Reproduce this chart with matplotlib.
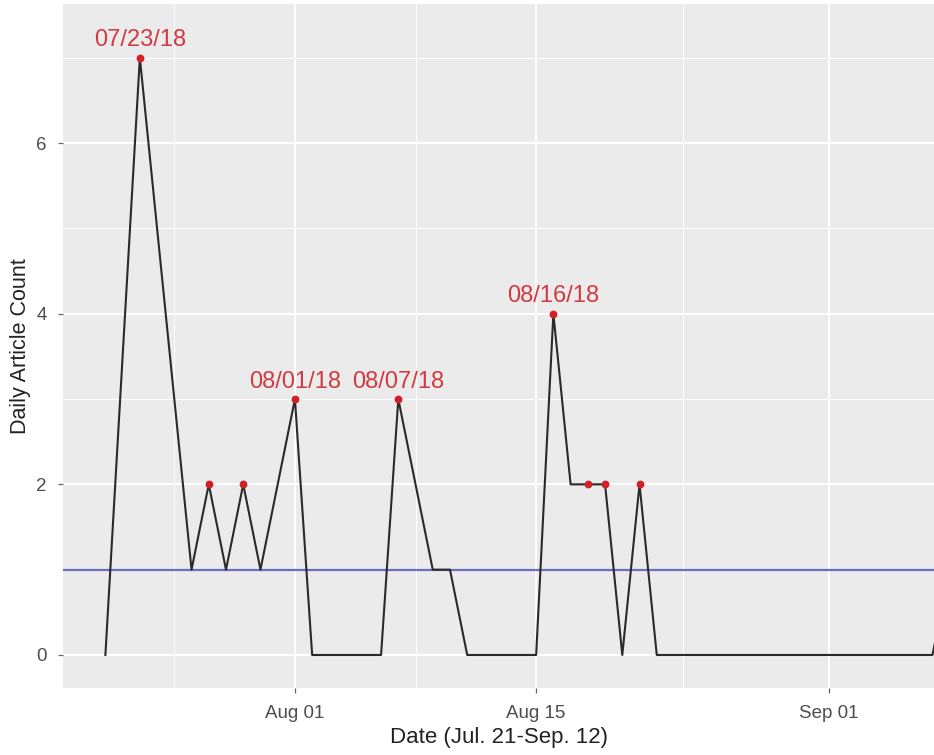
import matplotlib
matplotlib.use("Agg")
import matplotlib.pyplot as plt
import matplotlib.dates as mdates
from matplotlib.ticker import FixedLocator
import datetime as dt

# ---- data ----
dates = ["2018-07-21", "2018-07-23", "2018-07-26", "2018-07-27", "2018-07-28",
         "2018-07-29", "2018-07-30", "2018-08-01", "2018-08-02", "2018-08-06",
         "2018-08-07", "2018-08-09", "2018-08-10", "2018-08-11", "2018-08-15",
         "2018-08-16", "2018-08-17", "2018-08-18", "2018-08-19", "2018-08-20",
         "2018-08-21", "2018-08-22", "2018-09-07", "2018-09-08"]
counts = [0, 7, 1, 2, 1, 2, 1, 3, 0, 0, 3, 1, 1, 0, 0, 4, 2, 2, 2, 0, 2, 0, 0, 1]

highlight_dates = ["2018-07-23", "2018-07-27", "2018-07-29", "2018-08-01", "2018-08-07",
                   "2018-08-16", "2018-08-18", "2018-08-19", "2018-08-21"]
label_dates = ["2018-07-23", "2018-08-01", "2018-08-07", "2018-08-16"]
label_texts = ["07/23/18", "08/01/18", "08/07/18", "08/16/18"]
mean_level = 1.0

x_major = ["2018-08-01", "2018-08-15", "2018-09-01"]
x_major_labels = ["Aug 01", "Aug 15", "Sep 01"]
x_minor = ["2018-07-25", "2018-08-08", "2018-08-23 12:00", "2018-09-08 12:00"]
y_major = [0, 2, 4, 6]
y_minor = [1, 3, 5, 7]

# ---- helpers ----
def d(s):
    fmt = "%Y-%m-%d %H:%M" if " " in s else "%Y-%m-%d"
    return mdates.date2num(dt.datetime.strptime(s, fmt))

xs = [d(s) for s in dates]
value_of = dict(zip(dates, counts))

plt.rcParams['font.family'] = ['Liberation Sans', 'DejaVu Sans']

fig = plt.figure(figsize=(9.34, 7.55), dpi=100)
ax = fig.add_axes([63 / 934, 1 - 688 / 755, 1 - 63 / 934, (688 - 4) / 755])
ax.set_facecolor('#EBEBEB')
for sp in ax.spines.values():
    sp.set_visible(False)

aug1 = d("2018-08-01")
ax.set_xlim(aug1 - 13.46, aug1 + 37.09)
ax.set_ylim(-0.387, 7.63)

# grid
ax.xaxis.set_major_locator(FixedLocator([d(s) for s in x_major]))
ax.xaxis.set_minor_locator(FixedLocator([d(s) for s in x_minor]))
ax.yaxis.set_major_locator(FixedLocator(y_major))
ax.yaxis.set_minor_locator(FixedLocator(y_minor))
ax.set_xticklabels(x_major_labels)
ax.set_yticklabels([str(v) for v in y_major])
ax.grid(which='major', color='white', linewidth=1.4)
ax.grid(which='minor', color='white', linewidth=0.7)
ax.set_axisbelow(True)
ax.tick_params(which='minor', length=0)
ax.tick_params(which='major', length=3.6, width=0.9, color='#666666',
               labelcolor='#4D4D4D', labelsize=13.5)
ax.tick_params(axis='x', pad=9)
ax.tick_params(axis='y', pad=8)

# mean line
ax.axhline(mean_level, color='#6D6DC4', linewidth=1.6, zorder=2)

# main series
ax.plot(xs, counts, color='#2A2A2A', linewidth=1.5, zorder=3)

# highlighted points
ax.scatter([d(s) for s in highlight_dates], [value_of[s] for s in highlight_dates],
           s=32, color='#D0212A', zorder=4, linewidths=0)

# labels
for s, t in zip(label_dates, label_texts):
    ax.annotate(t, (d(s), value_of[s]), xytext=(0, 12.5), textcoords='offset points',
                ha='center', va='center', fontsize=17, color='#D23A40', zorder=5)

ax.set_xlabel("Date (Jul. 21-Sep. 12)", fontsize=16, color='#222222', labelpad=3)
ax.set_ylabel("Daily Article Count", fontsize=15.5, color='#222222', labelpad=4)

fig.savefig("out.png", dpi=100)
